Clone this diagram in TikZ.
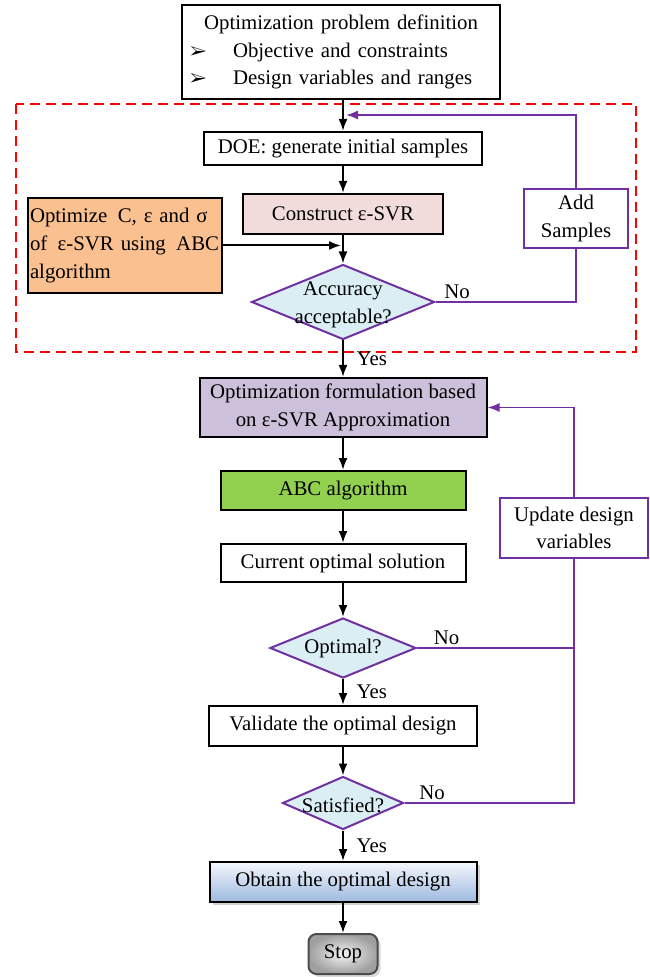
\documentclass[tikz,border=0pt]{standalone}
\usepackage{fontspec}
\setmainfont{Liberation Serif}
\usepackage{pifont}
\usepackage{xcolor}
\usetikzlibrary{positioning,shapes.geometric,arrows.meta,shadows}
\definecolor{svrpurple}{HTML}{7030A0}
\definecolor{svrpink}{HTML}{F2DCDB}
\definecolor{svrorange}{HTML}{FAC090}
\definecolor{svrlilac}{HTML}{CCC0DA}
\definecolor{svrgreen}{HTML}{92D050}
\definecolor{svrcyan}{HTML}{DAEEF3}
\definecolor{svrblue}{HTML}{9DB9E0}

\begin{document}
\begin{tikzpicture}[x=0.5pt,y=-0.5pt,
  every node/.style={font=\fontsize{10.4}{13.8}\selectfont},
  box/.style={draw,line width=1pt,inner sep=1pt,minimum height=20pt,align=center},
  pbox/.style={draw=svrpurple,line width=1pt,fill=white,inner sep=1pt,align=center},
  dmd/.style={diamond,draw=svrpurple,line width=1pt,fill=svrcyan,inner sep=0pt},
  arr/.style={line width=1pt,-{Latex[length=6pt,width=4.5pt]}},
  pline/.style={draw=svrpurple,line width=0.9pt},
  yeslab/.style={right,xshift=3pt},
  nolab/.style={anchor=south west,inner sep=1pt}]
\useasboundingbox (0,0) rectangle (649,977);
\draw[red,line width=1pt,dash pattern=on 5pt off 3pt] (16,104) rectangle (636,352);
\node[box,text width=151pt,inner sep=4pt,align=left,minimum height=47pt] (prob) at (341,52) {\makebox[151pt]{Optimization problem definition}\\ \makebox[21.5pt][l]{\small\ding{226}}Objective and constraints\\ \makebox[21.5pt][l]{\small\ding{226}}Design variables and ranges};
\node[box,minimum width=139pt,minimum height=16.5pt] (doe) at (343,148.5) {DOE: generate initial samples};
\node[box,fill=svrpink,minimum width=100pt] (cons) at (343,214) {Construct ε-SVR};
\node[box,fill=svrorange,minimum width=97pt,minimum height=47.5pt,text width=95pt,align=left] (abcopt) at (125,245.5) {\mbox{Optimize\ \,C, ε and σ}\\ \mbox{of\ \,ε-SVR using\ \,ABC}\\ algorithm};
\node[pbox,minimum width=52pt,minimum height=29.5pt] (add) at (576,218.5) {Add\\Samples};
\node[dmd,minimum width=91.5pt,minimum height=37.5pt] (acc) at (343,302) {};
\node[align=center] (acctxt) at (343,305) {Accuracy\\acceptable?};
\coordinate (fb) at (346,115);
\node[box,fill=svrlilac,minimum width=143.5pt,minimum height=29.5pt] (form) at (343,407.5) {Optimization formulation based\\on ε-SVR Approximation};
\node[box,fill=svrgreen,minimum width=122.5pt,minimum height=19.5pt] (abc) at (343,490.5) {ABC algorithm};
\node[box,minimum width=122.5pt,minimum height=19pt] (cur) at (343,563) {Current optimal solution};
\node[pbox,minimum width=74pt,minimum height=30pt] (upd) at (574,528) {Update design\\variables};
\node[dmd,minimum width=73pt,minimum height=30pt] (optd) at (343,648) {};
\node (opttxt) at (343,648) {Optimal?};
\node[box,minimum width=134pt] (val) at (343,726) {Validate the optimal design};
\node[dmd,minimum width=60.5pt,minimum height=26.5pt] (satd) at (343,803) {};
\node (sattxt) at (343,805) {Satisfied?};
\node[box,top color=white!90!svrblue,bottom color=svrblue,minimum width=133.5pt,drop shadow={opacity=0.35,shadow xshift=1.5pt,shadow yshift=-1.5pt}] (obt) at (343,882) {Obtain the optimal design};
\node[draw=black!70,line width=1pt,rounded corners=4pt,inner color=gray!10,outer color=gray!75,minimum width=34.5pt,minimum height=20pt,drop shadow={opacity=0.3,shadow xshift=1.5pt,shadow yshift=-1.5pt}] (stop) at (343,954) {Stop};
\draw[arr] (prob.south -| doe.north) -- (doe.north);
\draw[arr] (doe) -- (cons);
\draw[arr] (cons) -- (acc);
\draw[arr,shorten >=1pt] (abcopt.east) -- (abcopt.east -| cons.south);
\draw[pline] (acc.east) node[nolab,xshift=3pt] {No} -| (add.south);
\draw[pline,-{Latex[length=6pt,width=4.5pt]}] (add.north) |- (fb);
\draw[arr] (acc) -- node[yeslab] {Yes} (form);
\draw[arr] (form) -- (abc);
\draw[arr] (abc) -- (cur);
\draw[arr] (cur) -- (optd);
\draw[arr] (optd) -- node[yeslab] {Yes} (val);
\draw[arr] (val) -- (satd);
\draw[arr] (satd) -- node[yeslab] {Yes} (obt);
\draw[arr] (obt) -- (stop);
\draw[pline] (optd.east) node[nolab,xshift=7pt] {No} -- (optd.east -| upd.south);
\draw[pline] (satd.east) node[nolab,xshift=6pt] {No} -| (upd.south);
\draw[pline,-{Latex[length=6pt,width=4.5pt]}] (upd.north) |- (form.east);
\end{tikzpicture}
\end{document}
